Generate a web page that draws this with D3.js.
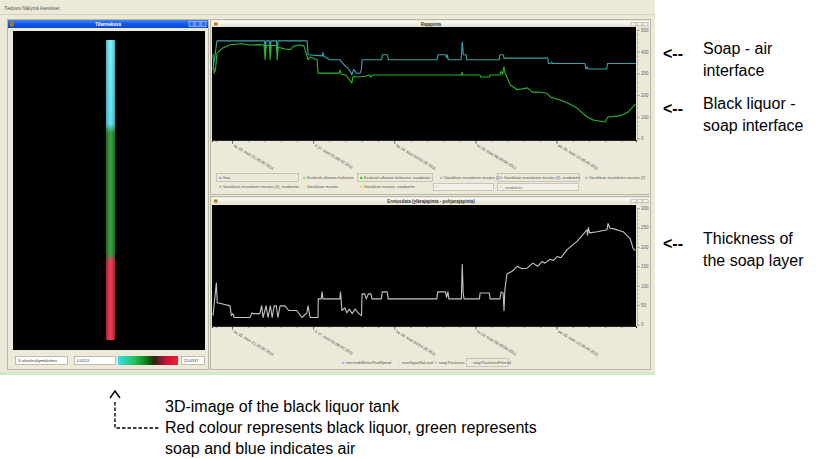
<!DOCTYPE html>
<html>
<head>
<meta charset="utf-8">
<script src="https://cdn.jsdelivr.net/npm/d3@7"></script>
<style>
  body { margin: 0; background: #fff; }
  svg { display: block; }
  text { font-family: "Liberation Sans", Arial, sans-serif; }
</style>
</head>
<body>
<svg id="chart" width="822" height="459"></svg>
<script>
// ---- data (x = hours from left edge of the plots) ----
const tickLabels = [
  "su 15. touk 21:20:00 2011",
  "ti 17. touk 01:06:40 2011",
  "ke 18. touk 04:53:20 2011",
  "to 19. touk 08:40:00 2011",
  "pe 20. touk 12:26:40 2011"
];
const firstTickHour = 6.86;
const majorStepHours = 27.78; // 100000 s
const minorStepHours = 5.556; // 20000 s
const xDomain = [0, 145.2];

const airInterface = [
  [0.34, 316], [1.0, 380], [1.71, 449], [18.0, 449], [18.2, 400], [18.5, 449],
  [19.7, 449], [19.9, 405], [20.2, 449], [22.1, 449], [22.3, 400], [22.6, 449],
  [32.6, 449], [32.9, 385], [37.8, 380], [38.0, 395], [38.3, 378], [40.4, 362],
  [43.8, 362], [44.5, 350], [45.5, 335], [46.5, 325], [47.5, 305], [47.9, 293],
  [48.5, 318], [49.5, 300], [50.7, 300], [51.2, 318], [51.4, 362], [58.0, 362],
  [58.4, 385], [60.1, 385], [60.4, 362], [77.0, 362], [77.4, 385], [80.0, 385],
  [80.3, 372], [80.6, 385], [80.9, 362], [85.3, 362], [85.7, 445], [86.1, 385],
  [87.0, 385], [87.3, 362], [98.3, 362], [98.6, 385], [99.7, 385], [100.0, 370],
  [115.0, 370], [115.2, 345], [116.0, 345], [116.3, 352], [116.6, 345],
  [127.7, 345], [128.0, 320], [128.5, 330], [128.8, 320], [135.2, 320],
  [135.4, 345], [145.2, 345]
];

const liquorInterface = [
  [0.34, 390], [0.7, 300], [1.2, 316], [1.71, 393], [3.5, 415], [6.2, 431],
  [10, 436], [13, 430], [16, 432], [17.8, 430], [18.2, 362], [18.6, 428],
  [19.7, 428], [19.9, 362], [20.3, 428], [22.1, 428], [22.3, 362], [22.7, 420],
  [25, 412], [26.7, 408], [28, 425], [30.1, 431], [31.5, 425], [32.9, 362],
  [33.5, 375], [36.0, 362], [36.3, 301], [43.5, 301], [43.8, 315], [44.1, 298],
  [46, 290], [47.9, 256], [48.3, 285], [50, 283], [52, 285], [54.1, 292],
  [54.3, 282], [55.1, 292], [85.4, 292], [85.6, 305], [85.9, 292], [91.8, 292],
  [92.0, 283], [95.0, 283], [95.2, 292], [98.6, 292], [99.0, 310], [99.5, 295],
  [100.0, 330], [100.4, 300], [102.1, 247], [104.5, 224], [106, 228],
  [107.9, 233], [109.9, 212], [112, 214], [114.7, 208], [116, 190],
  [119.2, 177], [121.6, 164], [125.0, 140], [128.4, 100], [130.5, 85],
  [134.6, 76], [135.6, 99], [139.7, 104], [142.5, 122], [144.2, 145], [145.0, 158]
];

const soapThickness = [
  [0.34, 23], [1.5, 107], [1.8, 56], [4, 52], [6.2, 48], [6.6, 23], [7.2, 28],
  [7.6, 18], [13.0, 18], [13.7, 30], [14.2, 28], [16.4, 28], [17, 48], [17.5, 18],
  [18.5, 48], [19.2, 18], [20, 48], [20.6, 18], [21.3, 48], [22, 48], [22.6, 18],
  [23.3, 48], [25, 48], [26.3, 36], [29.0, 36], [30.1, 25], [30.8, 18], [32.5, 30],
  [32.9, 48], [33.6, 18], [36.3, 18], [36.4, 66], [37.4, 66], [37.7, 84], [38.0, 66],
  [43.8, 66], [44.0, 84], [44.5, 36], [45.5, 43], [46.2, 30], [47, 40], [48, 28],
  [49, 40], [50, 30], [51.2, 23], [51.4, 79], [52.3, 79], [52.8, 66], [53.6, 79],
  [54.4, 79], [54.8, 66], [58.0, 66], [58.3, 84], [60.0, 84], [60.3, 66],
  [77.0, 66], [77.3, 84], [80, 84], [80.3, 70], [80.8, 84], [81.1, 66],
  [85.4, 66], [85.7, 155], [86.0, 84], [86.3, 66], [91.6, 66], [91.8, 81],
  [95.0, 81], [95.2, 66], [98.6, 66], [99.0, 84], [99.7, 81], [100.0, 36],
  [100.3, 90], [101.0, 130], [102.8, 137], [104.5, 150], [106, 144], [107.9, 145],
  [109.9, 158], [111.5, 150], [113, 162], [114, 158], [115.8, 168], [117, 165],
  [118.2, 175], [119.5, 172], [121.6, 193], [125.0, 214], [127.1, 232],
  [128.4, 244], [128.6, 230], [128.9, 250], [129.3, 236], [131.9, 239],
  [135.3, 244], [135.6, 260], [136.3, 248], [137.3, 247], [140.8, 239],
  [143.2, 221], [144.2, 196], [145.0, 190]
];

const topTicks = [0, 100, 200, 300, 400, 500];
const bottomTicks = [0, 50, 100, 150, 200, 250, 300];

const topLegendRow1 = ["Ilma", "Keskiväli ulkoinen keilanero", "Keskiväli ulkoinen keilanero, suodatettu",
  "Vanakkain muutoksen muutos (1)", "Vanakkain muutoksen muutos (1), suodatettu", "Vanakkain muutoksen muutos (2)"];
const topLegendRow2 = ["Vanakkain muutoksen muutos (2), suodatettu", "Vanakkain muutos", "Vanakkain muutos, suodatettu"];
const bottomLegend = ["electrodeMetricFluidSpeed", "maxSignalSoLevel", "soapThickness", "soapThicknessFiltered"];

// tank layers, percent of tank height (bottom to top)
const tankLayers = ["black liquor", "soap", "air"];
const tankTops = [27, 70, 100];
const colorRangeLabels = ["0.0113", "25.6337"];

const annotations = [
  ["Soap - air", "interface"],
  ["Black liquor -", "soap interface"],
  ["Thickness of", "the soap layer"]
];
const captionLines = [
  "3D-image of the black liquor tank",
  "Red colour represents black liquor, green represents",
  "soap and blue indicates air"
];

// ---- drawing ----
const svg = d3.select("#chart");
const defs = svg.append("defs");

// screenshot background
svg.append("rect").attr("x", 0).attr("y", 0).attr("width", 655).attr("height", 375).attr("fill", "#ece9d8");
svg.append("rect").attr("x", 0).attr("y", 372).attr("width", 655).attr("height", 3).attr("fill", "#cfe8c8");
svg.append("line").attr("x1", 0).attr("x2", 655).attr("y1", 14.5).attr("y2", 14.5).attr("stroke", "#d6d3c4");
svg.append("text").attr("x", 4).attr("y", 10).attr("font-size", 4.5).attr("fill", "#555")
  .text("Tiedosto   Näkymä   Asetukset");

// window frames
svg.append("rect").attr("x", 7.5).attr("y", 19.5).attr("width", 201).attr("height", 350)
  .attr("fill", "#ece9d8").attr("stroke", "#b9b6a6");
svg.append("rect").attr("x", 210.5).attr("y", 19.5).attr("width", 440).attr("height", 175)
  .attr("fill", "#ece9d8").attr("stroke", "#b9b6a6");
svg.append("rect").attr("x", 210.5).attr("y", 196.5).attr("width", 440).attr("height", 173)
  .attr("fill", "#ece9d8").attr("stroke", "#b9b6a6");

// title bars
const blueGrad = defs.append("linearGradient").attr("id", "xpBlue").attr("x1", 0).attr("x2", 0).attr("y1", 0).attr("y2", 1);
blueGrad.append("stop").attr("offset", "0%").attr("stop-color", "#3d86f5");
blueGrad.append("stop").attr("offset", "50%").attr("stop-color", "#0f5ae6");
blueGrad.append("stop").attr("offset", "100%").attr("stop-color", "#0a48c8");
const greyGrad = defs.append("linearGradient").attr("id", "xpGrey").attr("x1", 0).attr("x2", 0).attr("y1", 0).attr("y2", 1);
greyGrad.append("stop").attr("offset", "0%").attr("stop-color", "#fbfaf6");
greyGrad.append("stop").attr("offset", "100%").attr("stop-color", "#e3e0d3");

function titleBar(x0, x1, y0, h, title, active) {
  const g = svg.append("g");
  g.append("rect").attr("x", x0).attr("y", y0).attr("width", x1 - x0).attr("height", h)
    .attr("fill", active ? "url(#xpBlue)" : "url(#xpGrey)");
  g.append("rect").attr("x", x0 + 2).attr("y", y0 + 1.5).attr("width", 3.5).attr("height", h - 3)
    .attr("fill", "#b07a1a");
  g.append("text").attr("x", (x0 + x1) / 2).attr("y", y0 + h / 2 + 1.6).attr("text-anchor", "middle")
    .attr("font-size", 4.5).attr("font-weight", "bold").attr("fill", active ? "#fff" : "#333").text(title);
  [0, 1, 2].forEach(i => {
    g.append("rect").attr("x", x1 - 19 + i * 6).attr("y", y0 + 1.2).attr("width", 5).attr("height", h - 2.4)
      .attr("fill", active ? "#2f6ff0" : "#f4f3ee").attr("stroke", active ? "#e8eefc" : "#a09c8c").attr("stroke-width", 0.5);
  });
}
titleBar(8, 208, 20, 8, "Tilannekuva", true);
titleBar(212, 650, 21, 6, "Rajapinta", false);
titleBar(212, 650, 198, 6, "Erotusdata (ylärajapinta - pohjarajapinta)", false);

// ---- left panel: 3D tank ----
svg.append("rect").attr("x", 13).attr("y", 31).attr("width", 192).attr("height", 319).attr("fill", "#000");
const yTank = d3.scaleLinear().domain([0, 100]).range([340, 40]);
const tankColors = { "black liquor": "#de1f3a", "soap": "#1b8a1e", "air": "#47e0f2" };
const tankGrad = defs.append("linearGradient").attr("id", "tankGrad")
  .attr("gradientUnits", "userSpaceOnUse").attr("x1", 0).attr("x2", 0)
  .attr("y1", yTank(0)).attr("y2", yTank(100));
tankLayers.forEach((name, i) => {
  const lo = i === 0 ? 0 : tankTops[i - 1];
  const hi = tankTops[i];
  tankGrad.append("stop").attr("offset", (lo / 100 + (i ? 0.02 : 0)) + "").attr("stop-color", tankColors[name]);
  tankGrad.append("stop").attr("offset", (hi / 100 - (i < 2 ? 0.01 : 0)) + "")
    .attr("stop-color", name === "air" ? "#6af0fc" : tankColors[name]);
});
svg.append("rect").attr("x", 106).attr("y", yTank(100)).attr("width", 9)
  .attr("height", yTank(0) - yTank(100)).attr("fill", "url(#tankGrad)");
const shade = defs.append("linearGradient").attr("id", "tankShade");
shade.append("stop").attr("offset", "0%").attr("stop-color", "#000").attr("stop-opacity", 0.25);
shade.append("stop").attr("offset", "50%").attr("stop-color", "#fff").attr("stop-opacity", 0.15);
shade.append("stop").attr("offset", "100%").attr("stop-color", "#000").attr("stop-opacity", 0.25);
svg.append("rect").attr("x", 106).attr("y", yTank(100)).attr("width", 9)
  .attr("height", yTank(0) - yTank(100)).attr("fill", "url(#tankShade)");

// left panel controls
function box(x0, w, label) {
  svg.append("rect").attr("x", x0 + 0.5).attr("y", 356.5).attr("width", w).attr("height", 8)
    .attr("fill", "#fff").attr("stroke", "#9a9788").attr("stroke-width", 0.6);
  svg.append("text").attr("x", x0 + 3).attr("y", 362).attr("font-size", 4).attr("fill", "#333").text(label);
}
box(15, 52, "X-akselinäkymäkulma");
box(74, 41, colorRangeLabels[0]);
box(181, 23, colorRangeLabels[1]);
const cbGrad = defs.append("linearGradient").attr("id", "cbGrad");
[["0%", "#3fdcf0"], ["28%", "#1fc256"], ["48%", "#0f7a14"], ["60%", "#202a10"], ["78%", "#b8143a"], ["100%", "#ff1a30"]]
  .forEach(([o, c]) => cbGrad.append("stop").attr("offset", o).attr("stop-color", c));
svg.append("rect").attr("x", 118).attr("y", 356).attr("width", 60).attr("height", 9).attr("fill", "url(#cbGrad)");

// ---- right panels: time plots ----
const x = d3.scaleLinear().domain(xDomain).range([212, 636]);
const majorTicks = tickLabels.map((d, i) => firstTickHour + i * majorStepHours);
const minorTicks = d3.range(firstTickHour - minorStepHours, xDomain[1], minorStepHours);

function plotPanel(top, bottom, yMax, ticks, minorStep, series) {
  svg.append("rect").attr("x", 212).attr("y", top).attr("width", 424).attr("height", bottom - top).attr("fill", "#000");
  const y = d3.scaleLinear().domain([0, yMax]).range([bottom - 1.5, top + (bottom - top) * 0.025]);

  // x axis: minor and major ticks with rotated date labels
  svg.append("g").attr("transform", `translate(0,${bottom})`)
    .call(d3.axisBottom(x).tickValues(minorTicks).tickSize(2).tickFormat(""))
    .call(g => g.select(".domain").attr("stroke", "#222"))
    .selectAll("line").attr("stroke", "#444").attr("stroke-width", 0.6);
  const gx = svg.append("g").attr("transform", `translate(0,${bottom})`)
    .call(d3.axisBottom(x).tickValues(majorTicks).tickSize(4).tickFormat((d, i) => tickLabels[i]));
  gx.select(".domain").remove();
  gx.selectAll("line").attr("stroke", "#333").attr("stroke-width", 0.6);
  gx.selectAll("text").attr("font-size", 4).attr("fill", "#444").attr("text-anchor", "start")
    .attr("x", 4).attr("y", 5).attr("dy", 0).attr("transform", "rotate(31)")
    .style("font-family", "'Liberation Sans', Arial, sans-serif");

  // y axis on the right
  svg.append("g").attr("transform", "translate(637,0)")
    .call(d3.axisRight(y).tickValues(d3.range(0, yMax + 0.1, minorStep)).tickSize(1.5).tickFormat(""))
    .call(g => g.select(".domain").attr("stroke", "#999").attr("stroke-width", 0.5))
    .selectAll("line").attr("stroke", "#888").attr("stroke-width", 0.5);
  const gy = svg.append("g").attr("transform", "translate(637,0)")
    .call(d3.axisRight(y).tickValues(ticks).tickSize(3));
  gy.select(".domain").remove();
  gy.selectAll("line").attr("stroke", "#777").attr("stroke-width", 0.5);
  gy.selectAll("text").attr("font-size", 4.5).attr("fill", "#666").attr("x", 4)
    .style("font-family", "'Liberation Sans', Arial, sans-serif");

  const line = d3.line().x(d => x(d[0])).y(d => y(d[1]));
  series.forEach(s => {
    svg.append("path").datum(s.data).attr("d", line).attr("fill", "none")
      .attr("stroke", s.color).attr("stroke-width", 1.1).attr("stroke-linejoin", "round");
  });
}

plotPanel(27, 140, 500, topTicks, 20, [
  { data: airInterface, color: "#3aa4ae" },
  { data: liquorInterface, color: "#28b828" }
]);
plotPanel(205, 326, 300, bottomTicks, 10, [
  { data: soapThickness, color: "#c4c4c4" }
]);

// legends
function legendItem(x0, yc, label, w, marker, boxed) {
  if (boxed) {
    svg.append("rect").attr("x", x0 - 2.5).attr("y", yc - 4.5).attr("width", w).attr("height", 8)
      .attr("fill", "none").attr("stroke", "#b0ad9e").attr("stroke-width", 0.6);
  }
  svg.append("rect").attr("x", x0).attr("y", yc - 1.2).attr("width", 2.5).attr("height", 2.2).attr("fill", marker);
  svg.append("text").attr("x", x0 + 4).attr("y", yc + 1.4).attr("font-size", 3.8).attr("fill", "#555").text(label);
}
const row1X = [219, 303, 360, 440, 500, 585];
const row1W = [82, 0, 75, 0, 82, 0];
const row1M = ["#9aa0ff", "#8fe08f", "#33dd33", "#bbb", "#bbb", "#bbb"];
topLegendRow1.forEach((t, i) => legendItem(row1X[i], 178, t, row1W[i], row1M[i], row1W[i] > 0));
const row2X = [219, 303, 360];
const row2M = ["#bbb", "#e8e890", "#e8e040"];
topLegendRow2.forEach((t, i) => legendItem(row2X[i], 187, t, 0, row2M[i], false));
[[433, 60, "*"], [497, 81, "* , suodatettu"]].forEach(([x0, w, t]) => {
  svg.append("rect").attr("x", x0 + 0.5).attr("y", 183.5).attr("width", w).attr("height", 7)
    .attr("fill", "#f2f0e8").attr("stroke", "#b0ad9e").attr("stroke-width", 0.6);
  svg.append("text").attr("x", x0 + 3).attr("y", 188.6).attr("font-size", 3.8).attr("fill", "#666").text(t);
});
svg.append("text").attr("x", 430).attr("y", 194.5).attr("text-anchor", "middle").attr("font-size", 4)
  .attr("fill", "#bbb").text("::::::");
const botX = [342, 398, 435, 469];
const botM = ["#aab0ff", "#ddd", "#ccc", "#ddd"];
bottomLegend.forEach((t, i) => legendItem(botX[i], 363, t, i === 3 ? 42 : 0, botM[i], i === 3));

// ---- annotations outside the screenshot ----
const annY = [[54, 76], [109, 131], [244, 266]];
annotations.forEach((lines, i) => {
  svg.append("text").attr("x", 663).attr("y", (annY[i][0] + annY[i][1]) / 2 - 6).attr("font-size", 16)
    .attr("font-weight", "bold").attr("fill", "#000").text("<--");
  lines.forEach((t, j) => {
    svg.append("text").attr("x", 703).attr("y", annY[i][j]).attr("font-size", 16).attr("fill", "#000").text(t);
  });
});
captionLines.forEach((t, i) => {
  svg.append("text").attr("x", 165).attr("y", 412 + i * 21).attr("font-size", 16).attr("fill", "#000").text(t);
});
// dashed pointer to the tank image
svg.append("path").attr("d", "M115,402 V428 H160").attr("fill", "none").attr("stroke", "#000")
  .attr("stroke-width", 1.4).attr("stroke-dasharray", "3.5,2");
svg.append("path").attr("d", "M110,398 L115,391 L120,398").attr("fill", "none").attr("stroke", "#000")
  .attr("stroke-width", 1.4);
</script>
</body>
</html>
